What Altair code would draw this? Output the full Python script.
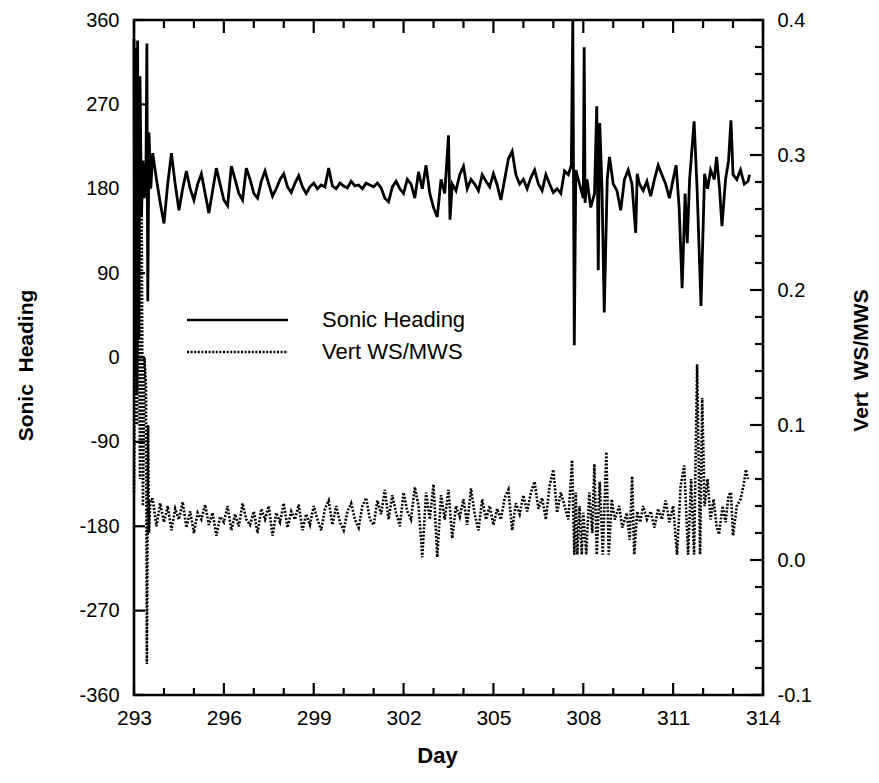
import altair as alt
import pandas as pd

# ---- Sonic Heading (left axis, degrees) ----
hd_day = [293.00, 293.03, 293.06, 293.09, 293.12, 293.16, 293.20, 293.25, 293.30, 293.35,
          293.40, 293.43, 293.46, 293.50, 293.56,
          293.625, 293.75, 293.875, 294.0, 294.125, 294.25, 294.375, 294.5, 294.625, 294.75,
          294.875, 295.0, 295.125, 295.25, 295.375, 295.5, 295.625, 295.75, 295.875, 296.0,
          296.125, 296.25, 296.375, 296.5, 296.625, 296.75, 296.875, 297.0, 297.125, 297.25,
          297.375, 297.5, 297.625, 297.75, 297.875, 298.0, 298.125, 298.25, 298.375, 298.5,
          298.625, 298.75, 298.875, 299.0, 299.125, 299.25, 299.375, 299.5, 299.625, 299.75,
          299.875, 300.0, 300.125, 300.25, 300.375, 300.5, 300.625, 300.75, 300.875, 301.0,
          301.125, 301.25, 301.375, 301.5, 301.625, 301.75, 301.875, 302.0, 302.125, 302.25,
          302.375, 302.5, 302.625, 302.75, 302.875, 303.0, 303.125, 303.25, 303.375, 303.5,
          303.55, 303.625, 303.75, 303.875, 304.0, 304.125, 304.25, 304.375, 304.5, 304.625,
          304.75, 304.875, 305.0, 305.125, 305.25, 305.375, 305.5, 305.625, 305.75, 305.875,
          306.0, 306.125, 306.25, 306.375, 306.5, 306.625, 306.75, 306.875, 307.0, 307.125,
          307.25, 307.375, 307.5, 307.6, 307.65, 307.7, 307.75, 307.875, 308.0, 308.03,
          308.06, 308.125, 308.25, 308.375, 308.45, 308.5, 308.55, 308.625, 308.7, 308.8,
          308.875, 309.0, 309.125, 309.25, 309.375, 309.5, 309.625, 309.75, 309.8, 309.875,
          310.0, 310.125, 310.25, 310.375, 310.5, 310.625, 310.75, 310.875, 311.0, 311.1,
          311.2, 311.3, 311.4, 311.47, 311.55, 311.7, 311.8, 311.93, 312.05, 312.15,
          312.25, 312.375, 312.45, 312.55, 312.63, 312.75, 312.85, 312.93, 313.0, 313.125,
          313.25, 313.375, 313.5, 313.55]
heading = [340, -20, 330, -40, 338, 20, 300, 150, 210, 170,
           200, 335, 60, 240, 180,
           218, 190, 165, 143, 185, 218, 185, 157, 180, 199,
           180, 168, 185, 196, 175, 154, 178, 202, 185, 168,
           162, 204, 190, 175, 168, 202, 190, 175, 170, 188,
           199, 185, 172, 180, 190, 196, 182, 176, 186, 194,
           182, 175, 182, 186, 180, 184, 182, 202, 183, 180,
           186, 183, 181, 188, 183, 184, 180, 186, 184, 182,
           186, 181, 170, 166, 182, 188, 180, 175, 190, 185,
           170, 198, 180, 205, 175, 160, 150, 190, 175, 237,
           147, 185, 178, 195, 204, 180, 190, 185, 178, 195,
           188, 182, 196, 184, 168, 190, 212, 220, 195, 185,
           190, 180, 192, 200, 185, 178, 195, 185, 176, 180,
           175, 199, 195, 205, 360, 13, 200, 185, 170, 331,
           165, 190, 160, 175, 268, 93, 250, 180, 48, 190,
           214, 185, 178, 157, 190, 200, 185, 133, 196, 185,
           178, 188, 172, 190, 205, 195, 185, 170, 190, 205,
           160, 74, 175, 122, 190, 252, 180, 55, 196, 180,
           200, 190, 214, 180, 140, 190, 210, 253, 195, 190,
           200, 185, 188, 195]

# ---- Vert WS/MWS (right axis) ----
vt_day = [293.00, 293.05, 293.10, 293.15, 293.20, 293.25, 293.30, 293.35, 293.40, 293.43,
          293.47, 293.50, 293.55,
          293.625, 293.75, 293.875, 294.0, 294.125, 294.25, 294.375, 294.5, 294.625, 294.75,
          294.875, 295.0, 295.125, 295.25, 295.375, 295.5, 295.625, 295.75, 295.875, 296.0,
          296.125, 296.25, 296.375, 296.5, 296.625, 296.75, 296.875, 297.0, 297.125, 297.25,
          297.375, 297.5, 297.625, 297.75, 297.875, 298.0, 298.125, 298.25, 298.375, 298.5,
          298.625, 298.75, 298.875, 299.0, 299.125, 299.25, 299.375, 299.5, 299.625, 299.75,
          299.875, 300.0, 300.125, 300.25, 300.375, 300.5, 300.625, 300.75, 300.875, 301.0,
          301.125, 301.25, 301.375, 301.5, 301.625, 301.75, 301.875, 302.0, 302.125, 302.25,
          302.375, 302.5, 302.625, 302.75, 302.875, 303.0, 303.125, 303.25, 303.375, 303.5,
          303.625, 303.75, 303.875, 304.0, 304.125, 304.25, 304.375, 304.5, 304.625, 304.75,
          304.875, 305.0, 305.125, 305.25, 305.375, 305.5, 305.625, 305.75, 305.875, 306.0,
          306.125, 306.25, 306.375, 306.5, 306.625, 306.75, 306.875, 307.0, 307.125, 307.25,
          307.375, 307.5, 307.625, 307.7, 307.75, 307.8, 307.875, 307.95, 308.0, 308.1,
          308.2, 308.3, 308.37, 308.45, 308.55, 308.65, 308.77, 308.85, 308.95, 309.05,
          309.2, 309.3, 309.45, 309.55, 309.63, 309.7, 309.8, 309.9, 310.0, 310.125,
          310.25, 310.375, 310.5, 310.625, 310.75, 310.875, 311.0, 311.13, 311.25, 311.37,
          311.5, 311.6, 311.7, 311.8, 311.9, 311.97, 312.05, 312.15, 312.25, 312.35,
          312.45, 312.53, 312.65, 312.75, 312.85, 312.93, 313.0, 313.125, 313.25, 313.35,
          313.43, 313.5]
vert = [0.05, 0.20, 0.10, 0.29, 0.06, 0.28, 0.04, 0.15, 0.13, -0.077,
        0.10, 0.02, 0.045,
        0.045, 0.025, 0.042, 0.028, 0.040, 0.022, 0.038, 0.030, 0.043, 0.024,
        0.036, 0.020, 0.035, 0.030, 0.041, 0.026, 0.035, 0.018, 0.032, 0.028,
        0.040, 0.022, 0.034, 0.025, 0.042, 0.030, 0.026, 0.036, 0.020, 0.038,
        0.030, 0.040, 0.018, 0.035, 0.028, 0.042, 0.024, 0.036, 0.030, 0.041,
        0.022, 0.034, 0.026, 0.040, 0.030, 0.022, 0.038, 0.044, 0.026, 0.040,
        0.028, 0.022, 0.036, 0.042, 0.030, 0.024, 0.040, 0.046, 0.030, 0.026,
        0.044, 0.034, 0.052, 0.030, 0.048, 0.035, 0.025, 0.050, 0.036, 0.030,
        0.054, 0.040, 0.002, 0.050, 0.030, 0.056, 0.002, 0.048, 0.030, 0.052,
        0.016, 0.040, 0.032, 0.045, 0.026, 0.053, 0.034, 0.022, 0.045, 0.030,
        0.040, 0.026, 0.038, 0.030, 0.046, 0.052, 0.022, 0.042, 0.034, 0.048,
        0.036, 0.050, 0.058, 0.038, 0.046, 0.030, 0.055, 0.067, 0.035, 0.050,
        0.040, 0.030, 0.074, 0.004, 0.050, 0.004, 0.040, 0.004, 0.035, 0.004,
        0.050, 0.020, 0.071, 0.004, 0.058, 0.004, 0.080, 0.004, 0.045, 0.030,
        0.040, 0.024, 0.035, 0.015, 0.062, 0.004, 0.036, 0.028, 0.040, 0.030,
        0.036, 0.024, 0.038, 0.030, 0.044, 0.028, 0.040, 0.004, 0.055, 0.070,
        0.004, 0.060, 0.004, 0.145, 0.004, 0.120, 0.040, 0.060, 0.030, 0.045,
        0.025, 0.019, 0.040, 0.028, 0.048, 0.050, 0.018, 0.040, 0.045, 0.055,
        0.067, 0.060]

# ---- axis ticks / labels ----
day_labels = [293, 296, 299, 302, 305, 308, 311, 314]
day_minor = [294, 295, 297, 298, 300, 301, 303, 304, 306, 307, 309, 310, 312, 313]
heading_ticks = [-360, -270, -180, -90, 0, 90, 180, 270, 360]
vert_ticks = [-0.1, 0.0, 0.1, 0.2, 0.3, 0.4]
vert_minor = [-0.08, -0.06, -0.04, -0.02, 0.02, 0.04, 0.06, 0.08, 0.12, 0.14, 0.16, 0.18,
              0.22, 0.24, 0.26, 0.28, 0.32, 0.34, 0.36, 0.38]
legend_labels = ["Sonic Heading", "Vert WS/MWS"]

W, H = 629, 675
FONT = "Liberation Sans"

df_h = pd.DataFrame({"day": hd_day, "heading": heading})
df_v = pd.DataFrame({"day": vt_day, "vert": vert})

xscale = alt.Scale(domain=[293, 314], nice=False, zero=False)
hscale = alt.Scale(domain=[-360, 360], nice=False, zero=False)
vscale = alt.Scale(domain=[-0.1, 0.4], nice=False, zero=False)

xaxis = alt.Axis(values=day_labels, title="Day", grid=False, ticks=False, domain=False,
                 labelFontSize=21, labelPadding=12, labelFlush=False, format="d",
                 titleFontSize=22, titleFontWeight="bold", titleX=303, titleY=67,
                 titleBaseline="alphabetic", titleAlign="center", titleAnchor="middle")

heading_line = alt.Chart(df_h).mark_line(color="black", strokeWidth=2.8).encode(
    x=alt.X("day:Q", scale=xscale, axis=xaxis),
    y=alt.Y("heading:Q", scale=hscale,
            axis=alt.Axis(orient="left", values=heading_ticks, title="Sonic\u00a0 Heading",
                          grid=False, ticks=False, domain=False, labelFontSize=20,
                          labelPadding=15,
                          labelExpr="datum.value < 0 ? '-' + format(abs(datum.value), 'd') : format(datum.value, 'd')",
                          titleFontSize=21, titleFontWeight="bold", titleAngle=270,
                          titleX=-108, titleY=345, titleAlign="center",
                          titleBaseline="middle")),
)

vert_line = alt.Chart(df_v).mark_line(color="black", strokeWidth=2.6,
                                      strokeDash=[2, 1.6]).encode(
    x=alt.X("day:Q", scale=xscale),
    y=alt.Y("vert:Q", scale=vscale,
            axis=alt.Axis(orient="right", values=vert_ticks, title="Vert\u00a0 WS/MWS",
                          grid=False, ticks=False, domain=False, labelFontSize=20,
                          labelPadding=14,
                          labelExpr="datum.value < 0 ? '-' + format(abs(datum.value), '.1f') : format(datum.value, '.1f')",
                          titleFontSize=21, titleFontWeight="bold", titleAngle=270,
                          titleX=98, titleY=340, titleAlign="center",
                          titleBaseline="middle")),
)

df_xmaj = pd.DataFrame({"d": day_labels})
df_xmin = pd.DataFrame({"d": day_minor})
tick_style = dict(color="black", strokeWidth=2.2)

bot_major = alt.Chart(df_xmaj).mark_rule(**tick_style).encode(
    x=alt.X("d:Q", scale=xscale), y=alt.value(H), y2=alt.value(H - 12))
bot_minor = alt.Chart(df_xmin).mark_rule(**tick_style).encode(
    x=alt.X("d:Q", scale=xscale), y=alt.value(H), y2=alt.value(H - 7))
top_major = alt.Chart(df_xmaj).mark_rule(**tick_style).encode(
    x=alt.X("d:Q", scale=xscale), y=alt.value(0), y2=alt.value(13))
top_minor = alt.Chart(df_xmin).mark_rule(**tick_style).encode(
    x=alt.X("d:Q", scale=xscale), y=alt.value(0), y2=alt.value(8))

df_hmaj = pd.DataFrame({"v": heading_ticks})
left_major = alt.Chart(df_hmaj).mark_rule(**tick_style).encode(
    y=alt.Y("v:Q", scale=hscale, axis=None), x=alt.value(0), x2=alt.value(11))

df_vmaj = pd.DataFrame({"v": vert_ticks})
df_vmin = pd.DataFrame({"v": vert_minor})
right_major = alt.Chart(df_vmaj).mark_rule(**tick_style).encode(
    y=alt.Y("v:Q", scale=vscale, axis=None), x=alt.value(W), x2=alt.value(W - 13))
right_minor = alt.Chart(df_vmin).mark_rule(**tick_style).encode(
    y=alt.Y("v:Q", scale=vscale, axis=None), x=alt.value(W), x2=alt.value(W - 8))

# ---- legend drawn inside the plot ----
df_leg1 = pd.DataFrame({"label": [legend_labels[0]]})
df_leg2 = pd.DataFrame({"label": [legend_labels[1]]})
leg_solid = alt.Chart(df_leg1).mark_rule(color="black", strokeWidth=2.6).encode(
    x=alt.value(53), x2=alt.value(154), y=alt.value(300))
leg_dot = alt.Chart(df_leg2).mark_rule(color="black", strokeWidth=2.6,
                                       strokeDash=[2, 1.6]).encode(
    x=alt.value(53), x2=alt.value(154), y=alt.value(332))
leg_t1 = alt.Chart(df_leg1).mark_text(align="left", baseline="middle", fontSize=22,
                                      font=FONT, color="black").encode(
    x=alt.value(188), y=alt.value(300), text="label:N")
leg_t2 = alt.Chart(df_leg2).mark_text(align="left", baseline="middle", fontSize=22,
                                      font=FONT, color="black").encode(
    x=alt.value(188), y=alt.value(332), text="label:N")

chart = alt.layer(
    heading_line, vert_line,
    bot_major, bot_minor, top_major, top_minor,
    left_major, right_major, right_minor,
    leg_solid, leg_dot, leg_t1, leg_t2,
).resolve_scale(y="independent").properties(
    width=W, height=H,
    autosize=alt.AutoSizeParams(type="none"),
    padding={"left": 126, "top": 12, "right": 108, "bottom": 78},
    background="white",
).configure_view(
    stroke="black", strokeWidth=2.6
).configure_axis(
    labelFont=FONT, titleFont=FONT, labelColor="black", titleColor="black"
)

chart.save("out.html", embed_options={"renderer": "svg", "actions": False})
